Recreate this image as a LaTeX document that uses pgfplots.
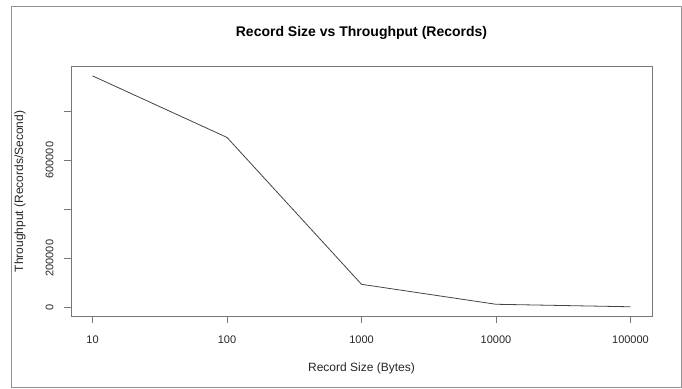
\documentclass[border=0pt]{standalone}
\usepackage{pgfplots}
\pgfplotsset{compat=1.18}
\usepackage{fontspec}
\setmainfont{Liberation Sans}
\definecolor{boxgray}{HTML}{777777}
\definecolor{linegray}{HTML}{444444}
\begin{document}
\begin{tikzpicture}[x=1pt,y=1pt]
\path[use as bounding box] (0,0) rectangle (682,388);
\draw[boxgray!80, line width=0.8pt] (11,0.5) rectangle (681,382);
\begin{axis}[
  at={(71pt,72pt)}, anchor=south west,
  scale only axis, width=581pt, height=249.3pt,
  xmode=log, log basis x=10,
  xmin=6.918, xmax=144544,
  ymin=-36500, ymax=982000,
  axis line style={boxgray, line width=0.7pt},
  tick style={boxgray, line width=0.7pt},
  tick pos=left, tick align=outside, major tick length=7pt,
  xminorticks=false, yminorticks=false,
  xtick={10,100,1000,10000,100000},
  xticklabels={10,100,1000,10000,100000},
  ytick={0,200000,400000,600000,800000},
  yticklabels={0,200000,,600000,},
  scaled y ticks=false,
  /pgf/number format/assume math mode=true,
  tick label style={font=\fontsize{11}{13}\selectfont, text=black!85},
  yticklabel style={rotate=90, anchor=south, yshift=7pt},
  xticklabel style={yshift=-9pt},
  title={\textbf{Record Size vs Throughput (Records)}},
  title style={font=\fontsize{14}{16}\selectfont, at={(axis description cs:0.5,1.111)}, anchor=center, yshift=0pt},
  xlabel={Record Size (Bytes)},
  xlabel style={font=\fontsize{12}{14}\selectfont, at={(axis description cs:0.5,-0.2086)}, anchor=center, text=black!85},
  ylabel={Throughput (Records/Second)},
  ylabel style={font=\fontsize{12}{14}\selectfont, at={(axis description cs:-0.0878,0.5)}, anchor=center, text=black!85},
]
\addplot[linegray, line width=0.8pt, mark=none] coordinates {
  (10,944500) (100,693000) (1000,93000) (10000,11400) (100000,1200)
};
\end{axis}
\end{tikzpicture}
\end{document}
